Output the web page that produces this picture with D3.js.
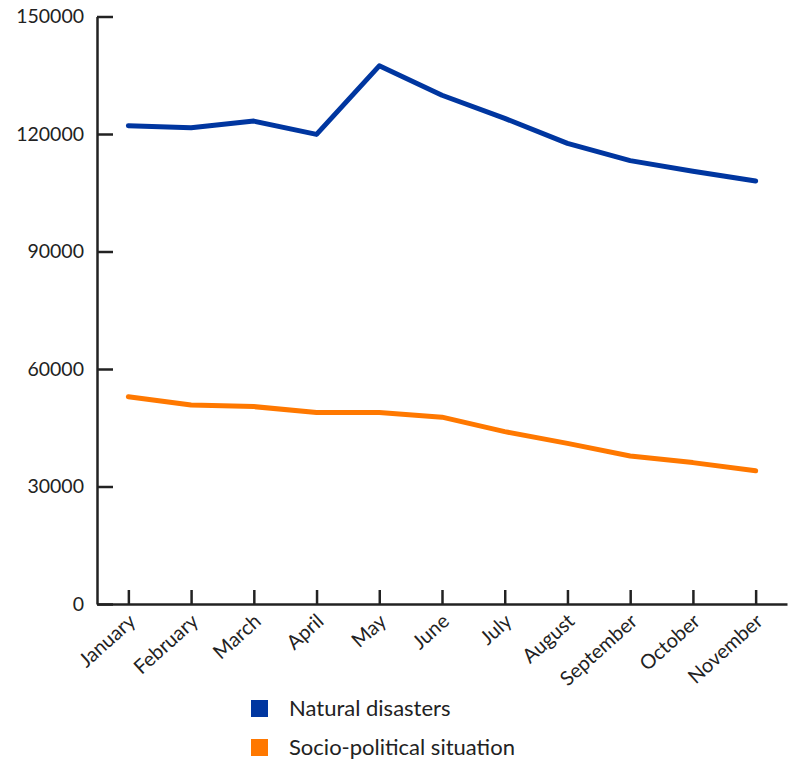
<!DOCTYPE html>
<html>
<head>
<meta charset="utf-8">
<script src="https://cdn.jsdelivr.net/npm/d3@7"></script>
<style>
  html, body { margin: 0; padding: 0; background: #fff; }
  svg { display: block; }
  text { font-family: "Lato", "Open Sans", sans-serif; fill: #222; }
</style>
</head>
<body>
<svg id="chart" width="793" height="759"></svg>
<script>
const months = ["January","February","March","April","May","June","July","August","September","October","November"];
const naturalDisasters = [122100, 121600, 123300, 119900, 137400, 129900, 124000, 117600, 113200, 110500, 108000];
const socioPolitical = [52900, 50800, 50400, 48900, 48900, 47700, 44000, 41000, 37800, 36100, 34000];
const yTicks = [0, 30000, 60000, 90000, 120000, 150000];
const seriesNames = ["Natural disasters", "Socio-political situation"];
const seriesColors = ["#0036a0", "#ff7800"];

const svg = d3.select("#chart");
const x = d3.scalePoint().domain(months).range([97, 787]).padding(0.5);
const y = d3.scaleLinear().domain([0, 150000]).range([604, 16.5]);

// Y axis
const yAxis = svg.append("g").attr("transform", "translate(97,0)")
  .call(d3.axisLeft(y).tickValues(yTicks).tickSizeInner(-16).tickSizeOuter(0).tickPadding(13).tickFormat(d3.format("d")));
yAxis.select(".domain").attr("stroke", "#222").attr("stroke-width", 2.5);
yAxis.selectAll(".tick line").attr("stroke", "#222").attr("stroke-width", 2.5);
yAxis.selectAll(".tick text").attr("font-size", 19.5).attr("font-family", "Lato").attr("fill", "#222");

// X axis
const xAxis = svg.append("g").attr("transform", "translate(0,604)")
  .call(d3.axisBottom(x).tickSizeInner(-14).tickSizeOuter(0).tickPadding(0));
xAxis.select(".domain").attr("stroke", "#222").attr("stroke-width", 2.5);
xAxis.selectAll(".tick line").attr("stroke", "#222").attr("stroke-width", 2.5);
xAxis.selectAll(".tick text")
  .attr("font-size", 20).attr("font-family", "Lato").attr("fill", "#222")
  .attr("text-anchor", "end").attr("dy", 0).attr("y", 0)
  .attr("transform", "translate(8,19) rotate(-42)");

// Lines
const line = d3.line().x((d, i) => x(months[i])).y(d => y(d));
[naturalDisasters, socioPolitical].forEach((s, k) => {
  svg.append("path").datum(s)
    .attr("d", line)
    .attr("fill", "none")
    .attr("stroke", seriesColors[k])
    .attr("stroke-width", 5)
    .attr("stroke-linejoin", "round")
    .attr("stroke-linecap", "round");
});

// Legend
const leg = svg.append("g");
seriesNames.forEach((n, k) => {
  const gy = 700 + k * 39;
  leg.append("rect").attr("x", 251).attr("y", gy).attr("width", 17).attr("height", 17).attr("fill", seriesColors[k]);
  leg.append("text").attr("x", 289).attr("y", gy + 16).attr("font-size", 22).text(n);
});
</script>
</body>
</html>
